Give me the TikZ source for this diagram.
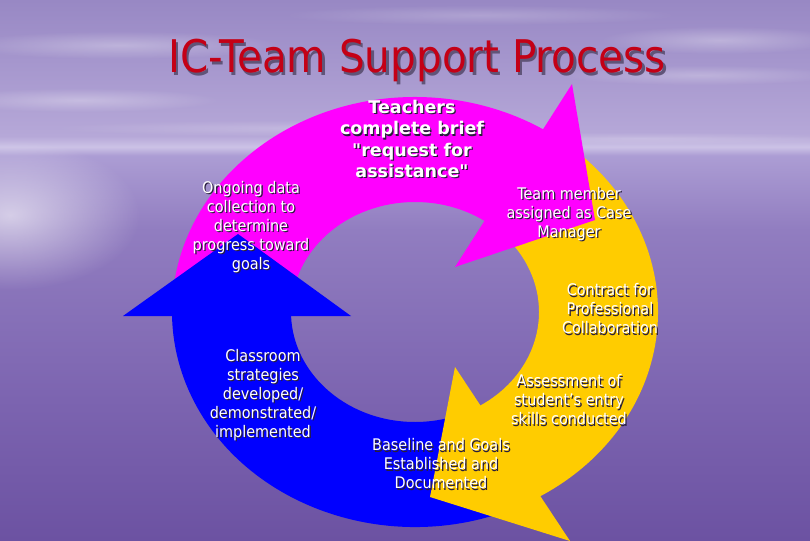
\documentclass[tikz,border=0pt]{standalone}
\usepackage{fontspec}
\setmainfont{DejaVu Sans}[FakeStretch=0.9]
\newfontfamily\wideface{DejaVu Sans}
\usetikzlibrary{fadings}

\definecolor{ringmag}{RGB}{255,0,255}
\definecolor{ringyel}{RGB}{255,204,0}
\definecolor{ringblu}{RGB}{0,0,255}
\definecolor{titlered}{RGB}{196,0,22}
\definecolor{titleshade}{RGB}{96,84,120}
\definecolor{textshade}{RGB}{40,30,60}
\definecolor{sky3}{RGB}{152,136,196}
\definecolor{sky2}{RGB}{165,150,205}
\definecolor{sky1}{RGB}{182,168,216}
\definecolor{horizon}{RGB}{204,194,230}
\definecolor{sea0}{RGB}{172,157,212}
\definecolor{sea1}{RGB}{145,125,192}
\definecolor{sea2}{RGB}{124,100,176}
\definecolor{sea3}{RGB}{108,82,162}

\pgfdeclareverticalshading{seasky}{100bp}{%
  color(0bp)=(sea3); color(25bp)=(sea3); color(38bp)=(sea2);
  color(53.7bp)=(sea1); color(60.6bp)=(sea0); color(61.4bp)=(horizon);
  color(62.4bp)=(sky1); color(69.4bp)=(sky2); color(75bp)=(sky3);
  color(100bp)=(sky3)}

\tikzfading[name=softglow, inner color=transparent!0, outer color=transparent!100]

\tikzset{
  magarrow/.style={fill=ringmag},
  yelarrow/.style={fill=ringyel},
  bluarrow/.style={fill=ringblu},
  cloud/.style={fill=white, path fading=softglow},
  lbl/.style={text=white, align=center, inner sep=0pt,
    font={\fontsize{16}{19}\selectfont}},
  lblbold/.style={text=white, align=center, inner sep=0pt,
    font={\wideface\bfseries\fontsize{17.5}{21.3}\selectfont}},
  headline/.style={text=titlered, anchor=base, inner sep=0pt,
    font={\fontsize{45}{50}\selectfont}},
}

% label with a dark drop shadow
\newcommand{\shadowlabel}[4]{%
  \node[#1, text=textshade, xshift=1.3pt, yshift=-1.3pt] (#2-sh) at #3 {#4};
  \node[#1] (#2) at #3 {#4};}

\begin{document}
\begin{tikzpicture}[x=1pt,y=-1pt]
  \useasboundingbox (0,0) rectangle (810,540);

  % background: sky, horizon and water
  \shade[shading=seasky] (0,0) rectangle (810,540);
  \fill[cloud, opacity=.6] (10,215) ellipse [x radius=130, y radius=75];
  \fill[cloud, opacity=.3] (120,45) ellipse [x radius=160, y radius=14];
  \fill[cloud, opacity=.3] (80,100) ellipse [x radius=140, y radius=12];
  \fill[cloud, opacity=.2] (300,128) ellipse [x radius=250, y radius=8];
  \fill[cloud, opacity=.2] (480,15) ellipse [x radius=200, y radius=10];
  \fill[cloud, opacity=.3] (720,40) ellipse [x radius=120, y radius=14];
  \fill[cloud, opacity=.25] (700,75) ellipse [x radius=140, y radius=10];
  \fill[cloud, opacity=.2] (640,138) ellipse [x radius=220, y radius=6];

  % cycle of three arrows around (415,312)
  \begin{scope}[shift={(415,312)}]
    % bodies
    \fill[yelarrow] (-50:243 and 215)
      arc[start angle=-50, end angle=63, x radius=243, y radius=215]
      -- (60:124 and 110)
      arc[start angle=60, end angle=-45, x radius=124, y radius=110] -- cycle;
    \fill[bluarrow] (68:243 and 215)
      arc[start angle=68, end angle=184, x radius=243, y radius=215]
      -- (184:124 and 110)
      arc[start angle=184, end angle=62, x radius=124, y radius=110] -- cycle;
    \fill[magarrow] (-176:243 and 215)
      arc[start angle=-176, end angle=-55, x radius=243, y radius=215]
      -- (-54:124 and 110)
      arc[start angle=-54, end angle=-176, x radius=124, y radius=110] -- cycle;
    % heads
    \fill[magarrow] (157,-228) -- (180,-92) -- (40,-45) -- cycle;
    \fill[yelarrow] (40,55) -- (15,185) -- (155,229) -- cycle;
    \fill[bluarrow] (-292,4) -- (-177,-78) -- (-64,4) -- cycle;
  \end{scope}

  % step labels
  \shadowlabel{lblbold}{request}{(412,139)}{Teachers\\complete brief\\"request for\\assistance"}
  \shadowlabel{lbl}{casemgr}{(569,214)}{Team member\\assigned as Case\\Manager}
  \shadowlabel{lbl}{contract}{(610,309)}{Contract for\\Professional\\Collaboration}
  \shadowlabel{lbl}{assess}{(569,400)}{Assessment of\\student's entry\\skills conducted}
  \shadowlabel{lbl}{baseline}{(441,464)}{Baseline and Goals\\Established and\\Documented}
  \shadowlabel{lbl}{classroom}{(263,395)}{Classroom\\strategies\\developed/\\demonstrated/\\implemented}
  \shadowlabel{lbl}{ongoing}{(251,227)}{Ongoing data\\collection to\\determine\\progress toward\\goals}

  % title
  \node[headline, text=titleshade, xshift=2.5pt, yshift=-2.5pt] (title-sh) at (417,73) {IC-Team Support Process};
  \node[headline] (title) at (417,73) {IC-Team Support Process};
\end{tikzpicture}
\end{document}
